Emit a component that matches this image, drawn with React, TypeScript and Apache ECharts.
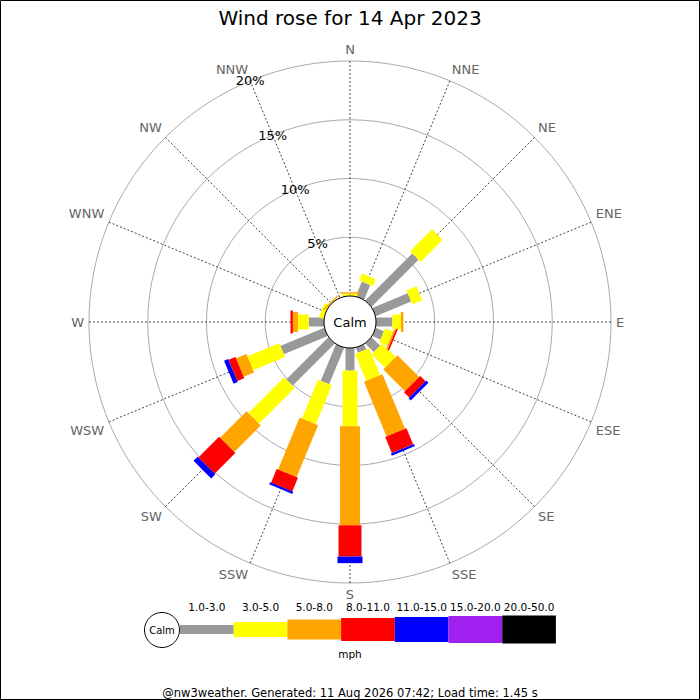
import { useEffect, useRef } from "react";
import * as echarts from "echarts";

const directions = ["N", "NNE", "NE", "ENE", "E", "ESE", "SE", "SSE", "S", "SSW", "SW", "WSW", "W", "WNW", "NW", "NNW"];
const speedBins = ["1.0-3.0", "3.0-5.0", "5.0-8.0", "8.0-11.0", "11.0-15.0", "15.0-20.0", "20.0-50.0"];

// % of the day per direction (N, NNE, ... NNW) for each speed bin
const bin1to3 = [0, 1.36, 5.66, 3.26, 1.4, 0.76, 1.03, 0.47, 1.92, 3.36, 5.08, 4.05, 1.3, 0, 0, 0];
const bin3to5 = [0.2, 0.63, 2.64, 0.91, 0.72, 0.73, 1.62, 2.48, 4.75, 3.58, 4.31, 2.92, 0.92, 0.4, 0.05, 0];
const bin5to8 = [0.12, 0, 0, 0, 0.21, 0.15, 2.61, 5.03, 8.42, 4.79, 3.18, 0.96, 0.43, 0, 0.12, 0];
const bin8to11 = [0, 0, 0, 0, 0, 0.15, 0.64, 1.48, 2.66, 1.26, 2.49, 0.64, 0.2, 0, 0, 0];
const bin11to15 = [0, 0, 0, 0, 0, 0, 0.26, 0.2, 0.56, 0.19, 0.5, 0.38, 0, 0, 0, 0];
const bin15to20 = [0, 0, 0, 0, 0, 0, 0, 0, 0, 0, 0, 0, 0, 0, 0, 0];
const bin20to50 = [0, 0, 0, 0, 0, 0, 0, 0, 0, 0, 0, 0, 0, 0, 0, 0];

const binValues = [bin1to3, bin3to5, bin5to8, bin8to11, bin11to15, bin15to20, bin20to50];

const colors = ["#999999", "#ffff00", "#ffa500", "#ff0000", "#0000ff", "#a020f0", "#000000"];
const barWidths = [9, 15, 20, 23, 25, 27, 28];

const FONT = "DejaVu Sans";
const CX = 350;
const CY = 322;

// angle axis starts at NNW so the ring labels sit on that spoke
const angleOf = (i: number) => ((i + 1) * 22.5) % 360;

const App = () => {
  const chartRef = useRef<HTMLDivElement>(null);

  useEffect(() => {
    if (!chartRef.current) return;
    const chart = echarts.init(chartRef.current, null, { renderer: "svg" });

    const base = directions.map(() => 0);
    const series = binValues.map((vals, b) => {
      const data = vals.map((v, i) => {
        const start = base[i];
        base[i] += v;
        return [start + v, angleOf(i), start];
      });
      return {
        type: "custom",
        name: speedBins[b],
        coordinateSystem: "polar",
        silent: true,
        z: 3,
        data,
        renderItem: (params: any, api: any) => {
          const end = api.value(0);
          const ang = api.value(1);
          const start = api.value(2);
          if (end - start <= 0) return null;
          const cs = params.coordSys;
          const p0 = api.coord([start, ang]);
          const p1 = api.coord([end, ang]);
          let dx = p1[0] - cs.cx;
          let dy = p1[1] - cs.cy;
          const len = Math.sqrt(dx * dx + dy * dy) || 1;
          dx /= len;
          dy /= len;
          const h = barWidths[b] / 2;
          const nx = -dy * h;
          const ny = dx * h;
          return {
            type: "polygon",
            shape: {
              points: [
                [p0[0] + nx, p0[1] + ny],
                [p1[0] + nx, p1[1] + ny],
                [p1[0] - nx, p1[1] - ny],
                [p0[0] - nx, p0[1] - ny],
              ],
            },
            style: { fill: colors[b] },
          };
        },
      };
    });

    const legendX = 180;
    const legendW = 53.7;
    const legendY = 629.5;
    const legend: any[] = [];
    speedBins.forEach((label, i) => {
      legend.push({
        type: "rect",
        shape: { x: legendX + i * legendW, y: legendY - barWidths[i] / 2, width: legendW, height: barWidths[i] },
        style: { fill: colors[i] },
      });
      legend.push({
        type: "text",
        x: legendX + i * legendW + legendW / 2,
        y: 607,
        style: { text: label, fill: "#000", fontSize: 10.5, fontFamily: FONT, align: "center", verticalAlign: "middle", textAlign: "center", textVerticalAlign: "middle" },
      });
    });

    const option = {
      animation: false,
      textStyle: { fontFamily: FONT },
      title: {
        text: "Wind rose for 14 Apr 2023",
        left: "center",
        top: 3,
        textStyle: { fontSize: 20, fontWeight: "normal", color: "#000", fontFamily: FONT },
      },
      polar: { center: [CX, CY], radius: [26, 261] },
      angleAxis: {
        type: "value",
        min: 0,
        max: 360,
        interval: 22.5,
        startAngle: 112.5,
        clockwise: true,
        axisLine: { show: false },
        axisTick: { show: false },
        axisLabel: {
          margin: 5,
          color: "#666",
          fontSize: 13,
          fontFamily: FONT,
          formatter: (v: number) => (v >= 360 ? "" : directions[(Math.round(v / 22.5) + 15) % 16]),
        },
        splitLine: { show: true, lineStyle: { color: "#444", width: 1, type: [2, 2] } },
      },
      radiusAxis: {
        type: "value",
        min: 0,
        max: 20,
        interval: 5,
        axisLine: { show: false },
        axisTick: { show: false },
        axisLabel: {
          margin: 0,
          align: "center",
          verticalAlign: "middle",
          color: "#000",
          fontSize: 13,
          fontFamily: FONT,
          formatter: (v: number) => (v === 0 ? "" : v + "%"),
        },
        splitLine: { show: true, lineStyle: { color: "#aaa", width: 1 } },
      },
      series,
      graphic: [
        {
          type: "rect",
          shape: { x: 0.5, y: 0.5, width: 699, height: 699 },
          style: { fill: "none", stroke: "#000", lineWidth: 1 },
        },
        {
          type: "circle",
          z: 10,
          shape: { cx: CX, cy: CY, r: 26 },
          style: { fill: "#fff", stroke: "#000", lineWidth: 1 },
        },
        {
          type: "text",
          z: 11,
          x: CX,
          y: CY,
          style: { text: "Calm", fill: "#000", fontSize: 13, fontFamily: FONT, align: "center", verticalAlign: "middle", textAlign: "center", textVerticalAlign: "middle" },
        },
        {
          type: "circle",
          shape: { cx: 162, cy: 630, r: 17.5 },
          style: { fill: "#fff", stroke: "#000", lineWidth: 1 },
        },
        {
          type: "text",
          x: 162,
          y: 630,
          style: { text: "Calm", fill: "#000", fontSize: 10, fontFamily: FONT, align: "center", verticalAlign: "middle", textAlign: "center", textVerticalAlign: "middle" },
        },
        ...legend,
        {
          type: "text",
          x: 350,
          y: 654,
          style: { text: "mph", fill: "#000", fontSize: 10.5, fontFamily: FONT, align: "center", verticalAlign: "middle", textAlign: "center", textVerticalAlign: "middle" },
        },
        {
          type: "text",
          x: 350,
          y: 693,
          style: {
            text: "@nw3weather. Generated: 11 Aug 2026 07:42; Load time: 1.45 s",
            fill: "#000",
            fontSize: 11.5,
            fontFamily: FONT,
            align: "center",
            verticalAlign: "middle",
            textAlign: "center",
            textVerticalAlign: "middle",
          },
        },
      ],
    };

    chart.setOption(option as any);

    return () => {
      chart.dispose();
    };
  }, []);

  return (
    <div
      ref={chartRef}
      style={{ position: "absolute", left: 0, top: 0, width: "700px", height: "700px", background: "#fff" }}
    />
  );
};

export default App;
